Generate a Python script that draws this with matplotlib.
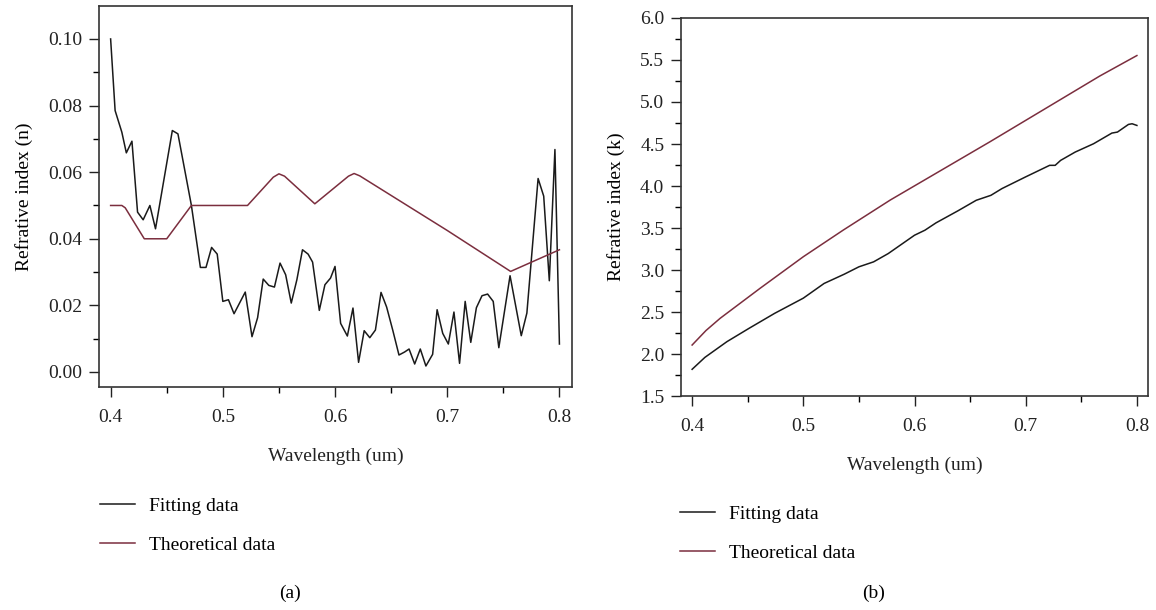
import matplotlib
matplotlib.use("Agg")
import matplotlib.pyplot as plt
from matplotlib.ticker import MultipleLocator

plt.rcParams['font.family'] = ['Liberation Serif', 'DejaVu Serif']

# (a) refractive index n
wl_fit_n = [0.400, 0.404, 0.410, 0.414, 0.419, 0.424, 0.429, 0.435, 0.440, 0.455,
            0.460, 0.472, 0.480, 0.485, 0.490, 0.495, 0.500, 0.505, 0.510, 0.520,
            0.526, 0.531, 0.536, 0.541, 0.546, 0.551, 0.556, 0.561, 0.566, 0.571,
            0.576, 0.580, 0.586, 0.591, 0.596, 0.600, 0.605, 0.611, 0.616, 0.621,
            0.626, 0.631, 0.636, 0.641, 0.646, 0.6515, 0.657, 0.662, 0.666, 0.671,
            0.676, 0.681, 0.687, 0.691, 0.696, 0.701, 0.706, 0.711, 0.716, 0.721,
            0.726, 0.731, 0.736, 0.741, 0.746, 0.756, 0.766, 0.771, 0.781, 0.786,
            0.791, 0.796, 0.800]
n_fit = [0.1000, 0.0785, 0.0720, 0.0658, 0.0693, 0.0480, 0.0457, 0.0500, 0.0430, 0.0725,
         0.0715, 0.0500, 0.0314, 0.0314, 0.0374, 0.0354, 0.0212, 0.0217, 0.0175, 0.0240,
         0.0106, 0.0163, 0.0279, 0.0260, 0.0255, 0.0327, 0.0292, 0.0207, 0.0277, 0.0367,
         0.0354, 0.0330, 0.0185, 0.0262, 0.0282, 0.0317, 0.0146, 0.0108, 0.0192, 0.0029,
         0.0124, 0.0103, 0.0126, 0.0239, 0.0195, 0.0125, 0.0051, 0.0060, 0.0069, 0.0024,
         0.0069, 0.0018, 0.0053, 0.0187, 0.0116, 0.0084, 0.0180, 0.0026, 0.0212, 0.0089,
         0.0193, 0.0229, 0.0234, 0.0212, 0.0073, 0.0289, 0.0109, 0.0177, 0.0581, 0.0528,
         0.0274, 0.0668, 0.0084]

wl_theo_n = [0.400, 0.410, 0.413, 0.430, 0.450, 0.472, 0.522, 0.545, 0.550, 0.555,
             0.582, 0.612, 0.617, 0.622, 0.700, 0.7565, 0.800]
n_theo = [0.0500, 0.0500, 0.0493, 0.0400, 0.0400, 0.0500, 0.0500, 0.0585, 0.0595, 0.0588,
          0.0505, 0.0588, 0.0596, 0.0589, 0.0425, 0.0302, 0.0367]

# (b) refractive index k
wl_fit_k = [0.400, 0.4115, 0.4313, 0.4511, 0.4742, 0.500, 0.5187, 0.5368, 0.550, 0.5632,
            0.5764, 0.600, 0.6094, 0.6193, 0.6391, 0.6555, 0.6687, 0.6786, 0.6997, 0.7215,
            0.7265, 0.7314, 0.7445, 0.761, 0.7775, 0.7825, 0.7924, 0.7957, 0.800]
k_fit = [1.818, 1.960, 2.147, 2.305, 2.484, 2.665, 2.840, 2.950, 3.038, 3.097,
         3.196, 3.414, 3.474, 3.561, 3.705, 3.830, 3.889, 3.969, 4.107, 4.246,
         4.246, 4.305, 4.404, 4.503, 4.630, 4.642, 4.733, 4.741, 4.721]

wl_theo_k = [0.400, 0.4125, 0.4252, 0.4611, 0.5001, 0.536, 0.5782, 0.6679, 0.7667, 0.800]
k_theo = [2.107, 2.280, 2.425, 2.782, 3.159, 3.476, 3.833, 4.527, 5.310, 5.553]

maroon = '#7b2e3e'
fs = 14

fig = plt.figure(figsize=(11.56, 6.10), dpi=100)
ax1 = fig.add_axes([0.0856, 0.3656, 0.409, 0.6246])
ax2 = fig.add_axes([0.5891, 0.3508, 0.4040, 0.6197])

l1, = ax1.plot(wl_fit_n, n_fit, color='#1a1a1a', lw=1.1)
l2, = ax1.plot(wl_theo_n, n_theo, color=maroon, lw=1.1)
ax1.set_xlim(0.3896, 0.811)
ax1.set_ylim(-0.0045, 0.1099)
ax1.yaxis.set_minor_locator(MultipleLocator(0.01))
ax1.set_yticks([0, 0.02, 0.04, 0.06, 0.08, 0.10])
ax1.set_yticklabels(['0.00', '0.02', '0.04', '0.06', '0.08', '0.10'])
ax1.set_ylabel('Refrative index (n)', fontsize=fs, labelpad=11)

m1, = ax2.plot(wl_fit_k, k_fit, color='#1a1a1a', lw=1.1)
m2, = ax2.plot(wl_theo_k, k_theo, color=maroon, lw=1.1)
ax2.set_xlim(0.390, 0.810)
ax2.set_ylim(1.5, 6.0)
ax2.yaxis.set_major_locator(MultipleLocator(0.5))
ax2.yaxis.set_minor_locator(MultipleLocator(0.25))
ax2.yaxis.set_major_formatter(plt.FormatStrFormatter('%.1f'))
ax2.set_ylabel('Refrative index (k)', fontsize=fs, labelpad=11)

for ax in (ax1, ax2):
    ax.xaxis.set_major_locator(MultipleLocator(0.1))
    ax.xaxis.set_minor_locator(MultipleLocator(0.05))
    ax.xaxis.set_major_formatter(plt.FormatStrFormatter('%.1f'))
    ax.tick_params(which='major', direction='out', length=7, width=1,
                   labelsize=fs, colors='#222222')
    ax.tick_params(which='minor', direction='out', length=4, width=1)
    ax.tick_params(axis='x', pad=8.5)
    ax.tick_params(axis='y', pad=5)
    ax.tick_params(top=False, right=False, which='both')
    for s in ax.spines.values():
        s.set_color('#333333')
        s.set_linewidth(1.2)
    ax.set_xlabel('Wavelength (um)', fontsize=fs, labelpad=16, color='#222222')

leg_kw = dict(loc='upper left', frameon=False, fontsize=fs, borderpad=0,
              borderaxespad=0, handlelength=1.8, handletextpad=0.7,
              labelspacing=1.1, bbox_transform=fig.transFigure)
ax1.legend([l1, l2], ['Fitting data', 'Theoretical data'],
           bbox_to_anchor=(0.0865, 0.1852), **leg_kw)
ax2.legend([m1, m2], ['Fitting data', 'Theoretical data'],
           bbox_to_anchor=(0.5882, 0.172), **leg_kw)

fig.text(0.2509, 0.028, '(a)', ha='center', va='center', fontsize=fs)
fig.text(0.756, 0.028, '(b)', ha='center', va='center', fontsize=fs)

fig.savefig('out.png', dpi=100)
